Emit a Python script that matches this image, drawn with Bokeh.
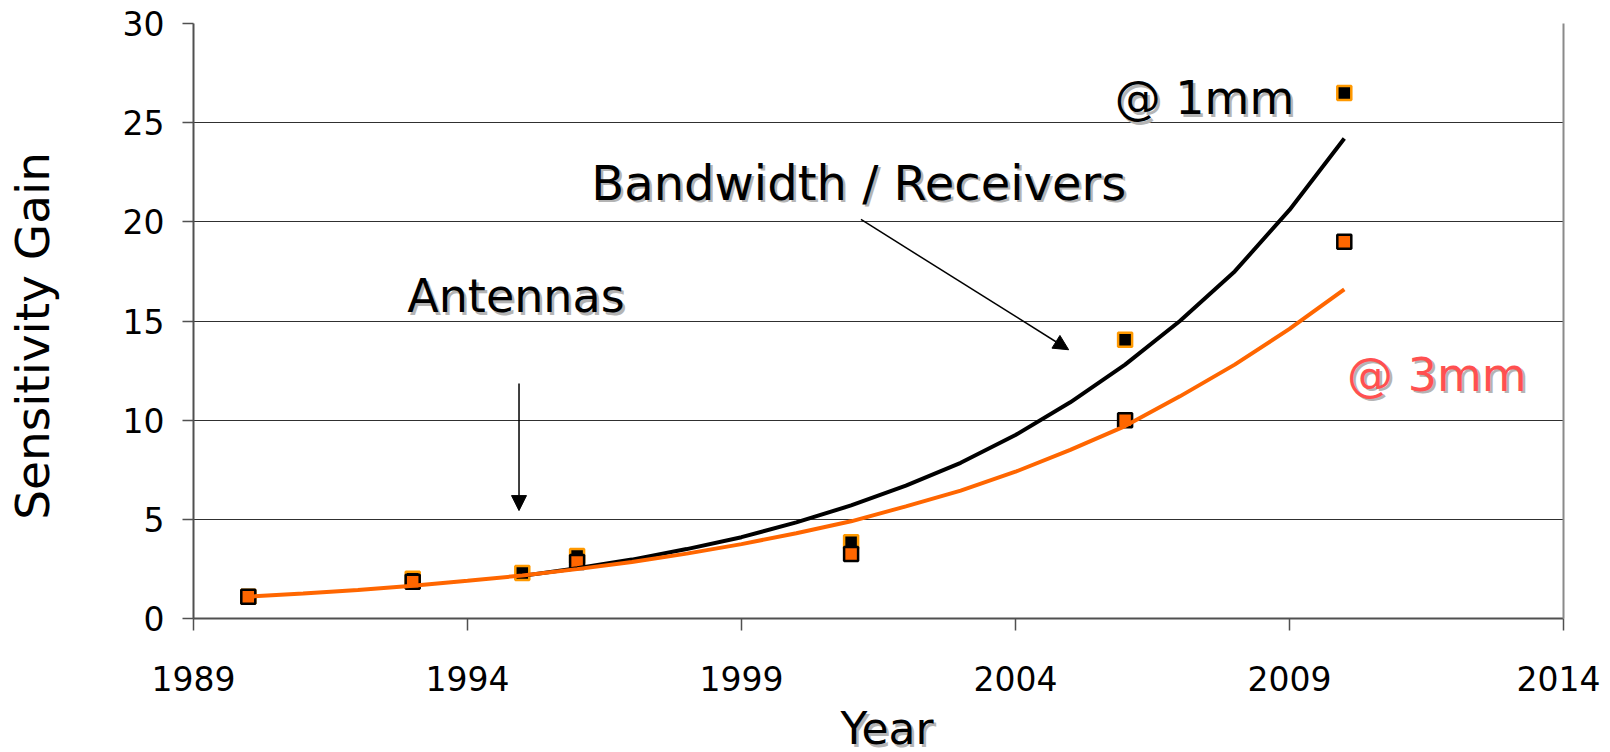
import math
from bokeh.plotting import figure
from bokeh.layouts import column
from bokeh.models import Range1d, FixedTicker, LinearAxis, Label, Arrow, NormalHead, ColumnDataSource
from bokeh.embed import file_html
from bokeh.resources import INLINE

# ---- data ----
point_years = [1990, 1993, 1995, 1996, 2001, 2006, 2010]
gain_1mm = [1.1, 2.0, 2.3, 3.15, 3.85, 14.05, 26.5]
gain_3mm = [1.1, 1.85, float("nan"), 2.85, 3.25, 10.0, 19.0]

trend_years_1mm = [1995, 1996, 1997, 1998, 1999, 2000, 2001, 2002, 2003, 2004,
                   2005, 2006, 2007, 2008, 2009, 2010]
trend_1mm = [2.15, 2.53, 2.97, 3.5, 4.1, 4.85, 5.7, 6.7, 7.85, 9.25,
             10.9, 12.8, 15.0, 17.5, 20.6, 24.2]
trend_years_3mm = [1990, 1991, 1992, 1993, 1994, 1995, 1996, 1997, 1998, 1999, 2000,
                   2001, 2002, 2003, 2004, 2005, 2006, 2007, 2008, 2009, 2010]
trend_3mm = [1.1, 1.26, 1.44, 1.65, 1.9, 2.17, 2.49, 2.85, 3.27, 3.75, 4.3,
             4.9, 5.65, 6.45, 7.4, 8.5, 9.7, 11.2, 12.8, 14.6, 16.6]

x_ticks = [1989, 1994, 1999, 2004, 2009, 2014]
y_ticks = [0, 5, 10, 15, 20, 25, 30]

FONT = "DejaVu Sans"
SHADOW = "#b4b4b4"
NBSP = "\u00a0"

MAIN_H = 706
TITLE_H = 46
W = 1600

p = figure(width=W, height=MAIN_H, output_backend="svg", toolbar_location=None,
           x_range=Range1d(1989, 2014), y_range=Range1d(0, 30),
           min_border_left=193, min_border_right=37, min_border_top=23, min_border_bottom=88)
p.outline_line_color = None
p.background_fill_color = "white"
p.border_fill_color = "white"

p.xgrid.grid_line_color = None
p.ygrid.ticker = FixedTicker(ticks=y_ticks)
p.ygrid.grid_line_color = "#303030"
p.ygrid.grid_line_width = 1

for ax in (p.xaxis[0], p.yaxis[0]):
    ax.axis_line_color = "#505050"
    ax.axis_line_width = 2
    ax.major_tick_line_color = "#505050"
    ax.major_tick_line_width = 1.5
    ax.major_tick_in = 0
    ax.minor_tick_line_color = None
    ax.major_label_text_font = FONT
    ax.major_label_text_font_size = "33px"
    ax.major_label_text_color = "black"
    ax.axis_label_text_font_style = "normal"
    ax.axis_label_text_color = "black"
    ax.axis_label_text_font = FONT

p.xaxis[0].ticker = FixedTicker(ticks=x_ticks)
p.xaxis[0].major_tick_out = 12
p.xaxis[0].major_label_standoff = 35

p.yaxis[0].ticker = FixedTicker(ticks=y_ticks)
p.yaxis[0].major_tick_out = 11
p.yaxis[0].major_label_standoff = 18
p.yaxis[0].axis_label = "Sensitivity Gain" + NBSP * 2
p.yaxis[0].axis_label_text_font_size = "47px"
p.yaxis[0].axis_label_standoff = 60

right_axis = LinearAxis(axis_line_color="#8a8a8a", axis_line_width=2,
                        major_tick_line_color=None, minor_tick_line_color=None,
                        major_label_text_font_size="0px")
p.add_layout(right_axis, "right")

# ---- markers ----
src = ColumnDataSource(dict(x=point_years, g1=gain_1mm, g3=gain_3mm))
p.scatter("x", "g1", source=src, marker="square", size=14, fill_color="black",
          line_color="#ff9900", line_width=2.5)
p.scatter("x", "g3", source=src, marker="square", size=14, fill_color="#ff6600",
          line_color="black", line_width=2.5)

# ---- trend curves ----
p.line(trend_years_1mm, trend_1mm, line_color="black", line_width=4)
p.line(trend_years_3mm, trend_3mm, line_color="#ff6600", line_width=4)

# ---- arrows ----
p.add_layout(Arrow(x_start=1994.94, y_start=11.85, x_end=1994.94, y_end=5.44,
                   line_color="black", line_width=1.5,
                   end=NormalHead(size=15, fill_color="black", line_color="black")))
p.add_layout(Arrow(x_start=2001.18, y_start=20.12, x_end=2004.97, y_end=13.55,
                   line_color="black", line_width=1.5,
                   end=NormalHead(size=15, fill_color="black", line_color="black")))


def shadow_text(fig, text, x, y, size, color, font=FONT, angle=0.0, align="left"):
    fig.add_layout(Label(x=x, y=y, text=text, text_font=font, text_font_size=size,
                         text_color=SHADOW, angle=angle, text_align=align,
                         text_baseline="alphabetic", x_offset=2.5, y_offset=-2.5))
    fig.add_layout(Label(x=x, y=y, text=text, text_font=font, text_font_size=size,
                         text_color=color, angle=angle, text_align=align,
                         text_baseline="alphabetic"))


shadow_text(p, "@ 1mm", 2005.81, 26.24, "46px", "black")
shadow_text(p, "Bandwidth / Receivers", 1996.26, 21.96, "48px", "black")
shadow_text(p, "Antennas", 1992.9, 16.25, "46px", "black")
shadow_text(p, "@ 3mm", 2010.05, 12.28, "46px", "#ff5050")

# ---- x-axis title strip (below the chart) ----
t = figure(width=W, height=TITLE_H, output_backend="svg", toolbar_location=None,
           x_range=Range1d(0, W), y_range=Range1d(0, TITLE_H),
           x_axis_type=None, y_axis_type=None,
           min_border_left=0, min_border_right=0, min_border_top=0, min_border_bottom=0)
t.grid.grid_line_color = None
t.outline_line_color = None
t.background_fill_color = "white"
t.border_fill_color = "white"
shadow_text(t, "Year", 810, 24, "44px", "black", align="center")

layout = column(p, t, spacing=0)
open("out.html", "w").write(file_html(layout, INLINE))
